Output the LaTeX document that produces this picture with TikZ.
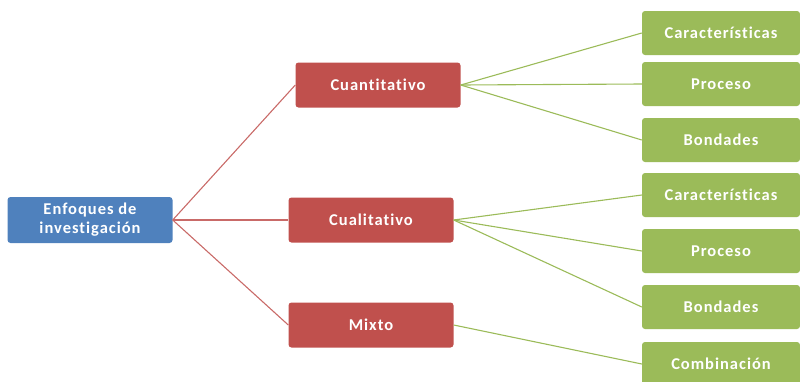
\documentclass[tikz,border=0pt]{standalone}
\usepackage{fontspec}
\setmainfont{Carlito}[LetterSpace=6,Ligatures=NoCommon]
\usepackage{xcolor}
\definecolor{azul}{HTML}{4F81BD}
\definecolor{rojo}{HTML}{C0504D}
\definecolor{verde}{HTML}{9BBB59}
\tikzset{
  caja/.style={rounded corners=3pt, text=white, font=\bfseries\fontsize{16.5}{19}\selectfont,
    align=center, inner sep=0pt},
  raiz/.style={caja, fill=azul, minimum width=165pt, minimum height=46pt},
  enfoque/.style={caja, fill=rojo, minimum width=165pt, minimum height=45pt},
  hoja/.style={caja, fill=verde, minimum width=158pt, minimum height=44pt},
  rama/.style={draw=rojo!85, line width=1.1pt},
  ramita/.style={draw=verde, line width=1.1pt}
}
\begin{document}
\begin{tikzpicture}[x=1pt,y=-1pt]
  \useasboundingbox (0,0) rectangle (800,381);

  % Root
  \node[raiz] (raiz) at (90,220) {Enfoques de\\investigación};

  % Approaches
  \node[enfoque] (cuanti) at (378,85) {Cuantitativo};
  \node[enfoque] (cuali) at (371,220) {Cualitativo};
  \node[enfoque] (mixto) at (371,325) {Mixto};

  % Leaves
  \node[hoja] (car1) at (721,33) {Características};
  \node[hoja] (pro1) at (721,84) {Proceso};
  \node[hoja] (bon1) at (721,140) {Bondades};
  \node[hoja] (car2) at (721,195) {Características};
  \node[hoja] (pro2) at (721,251) {Proceso};
  \node[hoja] (bon2) at (721,307) {Bondades};
  \node[hoja] (comb) at (721,364) {Combinación};

  % Red branches
  \draw[rama] (raiz.east) -- (cuanti.west);
  \draw[rama] (raiz.east) -- (cuali.west);
  \draw[rama] (raiz.east) -- (mixto.west);

  % Green branches
  \draw[ramita] (cuanti.east) -- (car1.west);
  \draw[ramita] (cuanti.east) -- (pro1.west);
  \draw[ramita] (cuanti.east) -- (bon1.west);
  \draw[ramita] (cuali.east) -- (car2.west);
  \draw[ramita] (cuali.east) -- (pro2.west);
  \draw[ramita] (cuali.east) -- (bon2.west);
  \draw[ramita] (mixto.east) -- (comb.west);
\end{tikzpicture}
\end{document}
